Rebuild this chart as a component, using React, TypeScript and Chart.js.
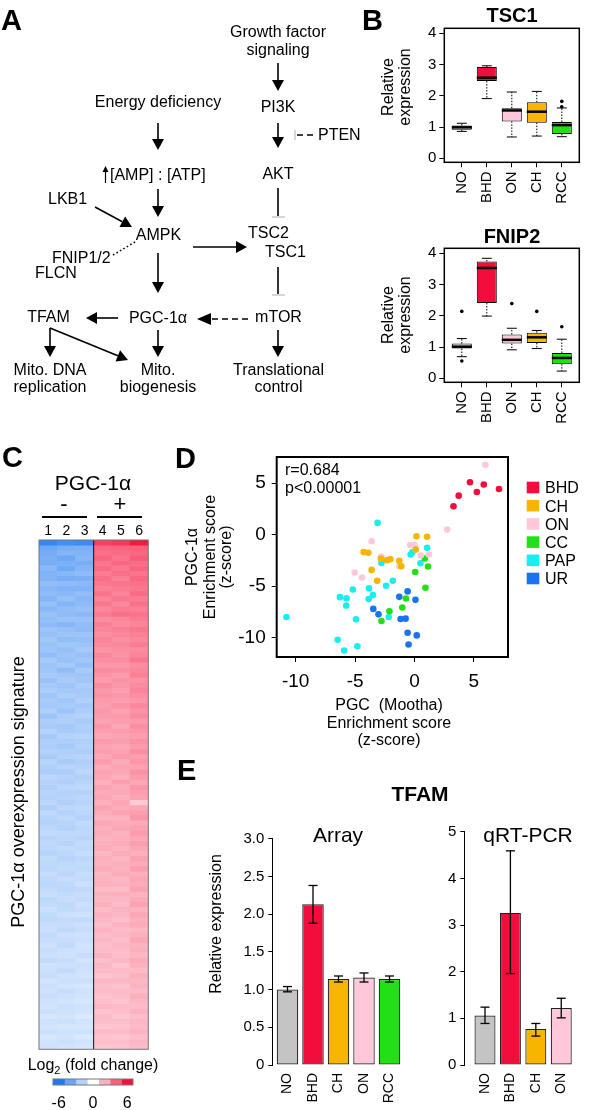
import React, { useEffect, useRef } from "react";
import { Chart, registerables } from "chart.js";
Chart.register(...registerables);

const FONT = "'Liberation Sans', Arial, Helvetica, sans-serif";
Chart.defaults.font.family = FONT;
Chart.defaults.color = "#000";

// ---------- Panel B: box plots ----------
const boxGroups = ["NO", "BHD", "ON", "CH", "RCC"];
const boxColors = ["#C4C4C4", "#F20D3C", "#FFC8DA", "#F7B500", "#22E016"];
const tsc1Min = [0.86, 1.91, 0.68, 0.71, 0.69];
const tsc1Q1 = [0.91, 2.47, 1.18, 1.14, 0.78];
const tsc1Med = [0.99, 2.58, 1.53, 1.49, 1.06];
const tsc1Q3 = [1.05, 2.92, 1.6, 1.79, 1.16];
const tsc1Max = [1.12, 2.96, 2.12, 2.14, 1.61];
const tsc1Out = [[], [], [], [], [1.65, 1.82]];
const fnip2Min = [0.69, 1.99, 0.91, 0.95, 0.23];
const fnip2Q1 = [0.95, 2.41, 1.11, 1.13, 0.45];
const fnip2Med = [1.01, 3.53, 1.23, 1.31, 0.65];
const fnip2Q3 = [1.11, 3.74, 1.4, 1.46, 0.81];
const fnip2Max = [1.27, 3.84, 1.6, 1.53, 1.25];
const fnip2Out = [[2.14, 0.55], [], [2.39], [2.14], [1.65]];
const boxYTicks = [0, 1, 2, 3, 4];

// ---------- Panel C: heat map (log2 fold change) ----------
const heat1 = [
  -5.4, -3.9, -3.7, -3.5, -3.6, -3.1, -3.4, -3.3, -2.9, -3.2,
  -3.0, -3.3, -2.8, -3.1, -2.7, -2.9, -3.0, -2.6, -2.8, -2.5,
  -2.7, -2.6, -2.9, -2.4, -2.6, -2.5, -2.3, -2.7, -2.4, -2.2,
  -2.5, -2.3, -2.4, -2.1, -2.6, -2.2, -2.3, -2.0, -2.4, -2.1,
  -2.2, -2.0, -2.3, -1.9, -2.1, -2.2, -1.8, -2.0, -2.1, -1.9,
  -2.0, -1.8, -2.1, -1.7, -1.9, -2.0, -1.8, -1.6, -1.9, -1.7,
  -1.8, -1.9, -1.6, -1.7, -1.8, -1.5, -1.7, -1.8, -1.6, -1.5,
  -1.7, -1.6, -1.4, -1.6, -1.7, -1.5, -1.4, -1.6, -1.5, -1.3,
  -1.5, -1.4, -1.6, -1.3, -1.4, -1.5, -1.2, -1.4, -1.3, -1.5,
  -1.3, -1.2, -1.4, -1.1, -1.3, -1.2, -1.4, -1.1, -1.2, -1.3,
];
const heat2 = [
  -5.0, -3.6, -3.3, -3.9, -3.5, -3.8, -3.2, -3.6, -3.0, -3.4,
  -3.1, -2.8, -3.3, -2.9, -3.0, -2.7, -3.2, -2.8, -2.6, -2.9,
  -2.5, -2.8, -2.6, -2.7, -2.4, -2.9, -2.5, -2.3, -2.6, -2.4,
  -2.2, -2.5, -2.3, -2.6, -2.2, -2.1, -2.4, -2.3, -2.0, -2.2,
  -2.4, -2.1, -2.0, -2.3, -1.9, -2.2, -2.0, -2.1, -1.8, -2.0,
  -1.9, -2.1, -1.8, -2.0, -1.7, -1.9, -2.0, -1.7, -1.8, -1.9,
  -1.6, -1.8, -1.9, -1.7, -1.6, -1.8, -1.5, -1.7, -1.8, -1.6,
  -1.5, -1.7, -1.6, -1.4, -1.6, -1.5, -1.7, -1.4, -1.5, -1.6,
  -1.4, -1.3, -1.5, -1.4, -1.6, -1.3, -1.4, -1.2, -1.5, -1.3,
  -1.2, -1.4, -1.3, -1.2, -1.4, -1.1, -1.3, -1.2, -1.4, -1.2,
];
const heat3 = [
  -5.2, -3.5, -3.4, -3.2, -3.6, -3.3, -3.0, -3.5, -3.1, -3.4,
  -2.9, -3.2, -3.0, -2.8, -3.1, -2.7, -2.9, -3.0, -2.6, -2.8,
  -2.6, -2.4, -2.7, -2.5, -2.8, -2.3, -2.6, -2.5, -2.2, -2.4,
  -2.3, -2.1, -2.4, -2.2, -2.0, -2.3, -2.1, -2.2, -1.9, -2.1,
  -2.0, -2.2, -1.9, -2.1, -2.0, -1.8, -2.1, -1.9, -1.7, -2.0,
  -1.8, -1.9, -1.7, -1.8, -2.0, -1.6, -1.8, -1.7, -1.9, -1.6,
  -1.7, -1.5, -1.8, -1.6, -1.7, -1.5, -1.6, -1.4, -1.7, -1.5,
  -1.6, -1.4, -1.5, -1.3, -1.6, -1.4, -1.5, -1.3, -1.4, -1.2,
  -1.3, -1.5, -1.2, -1.4, -1.3, -1.2, -1.4, -1.1, -1.3, -1.2,
  -1.1, -1.3, -1.2, -1.0, -1.2, -1.1, -1.3, -1.0, -1.2, -1.1,
];
const heat4 = [
  4.8, 3.8, 3.6, 3.9, 3.5, 3.7, 3.3, 3.6, 3.4, 3.2,
  3.5, 3.1, 3.4, 3.0, 3.3, 2.9, 3.2, 3.0, 2.8, 3.1,
  2.9, 2.7, 3.0, 2.8, 2.6, 2.9, 2.7, 2.5, 2.8, 2.6,
  2.7, 2.5, 2.4, 2.6, 2.5, 2.3, 2.6, 2.4, 2.2, 2.5,
  2.3, 2.4, 2.2, 2.5, 2.1, 2.3, 2.2, 2.0, 2.3, 2.1,
  2.2, 2.0, 2.3, 2.1, 1.9, 2.2, 2.0, 2.1, 1.9, 2.0,
  2.1, 1.8, 2.0, 1.9, 2.1, 1.8, 1.9, 2.0, 1.7, 1.9,
  1.8, 2.0, 1.7, 1.9, 1.8, 1.6, 1.9, 1.7, 1.8, 1.6,
  1.7, 1.9, 1.6, 1.8, 1.7, 1.5, 1.8, 1.6, 1.7, 1.5,
  1.6, 1.8, 1.5, 1.7, 1.6, 1.4, 1.7, 1.5, 1.6, 1.4,
];
const heat5 = [
  5.0, 3.9, 3.7, 3.5, 3.8, 3.4, 3.6, 3.2, 3.5, 3.3,
  3.1, 3.4, 3.0, 3.3, 3.6, 3.1, 2.9, 3.2, 3.0, 2.8,
  3.0, 2.8, 2.7, 2.9, 2.6, 2.8, 2.5, 2.7, 2.6, 2.4,
  2.6, 2.4, 2.7, 2.3, 2.5, 2.4, 2.2, 2.5, 2.3, 2.4,
  2.2, 2.3, 2.5, 2.1, 2.3, 2.2, 2.0, 2.4, 2.1, 2.2,
  2.0, 2.2, 2.1, 2.3, 1.9, 2.1, 2.2, 1.9, 2.0, 2.1,
  1.9, 2.1, 1.8, 2.0, 1.9, 2.1, 1.8, 1.9, 1.7, 2.0,
  1.8, 1.7, 1.9, 1.8, 1.6, 1.9, 1.7, 1.8, 1.6, 1.8,
  1.7, 1.6, 1.8, 1.5, 1.7, 1.6, 1.8, 1.5, 1.7, 1.6,
  1.5, 1.7, 1.6, 1.4, 1.6, 1.5, 1.7, 1.4, 1.6, 1.5,
];
const heat6 = [
  5.8, 4.0, 3.8, 4.1, 3.7, 3.9, 3.5, 3.8, 3.6, 3.4,
  3.7, 3.3, 3.6, 3.2, 3.5, 3.3, 3.1, 3.4, 3.2, 3.0,
  3.3, 2.9, 3.1, 3.4, 2.8, 3.0, 3.2, 2.7, 2.9, 3.1,
  2.8, 2.6, 3.0, 2.7, 2.9, 2.5, 2.8, 2.6, 2.4, 2.7,
  2.5, 2.8, 2.4, 2.6, 2.3, 2.7, 2.5, 2.2, 2.6, 2.4,
  2.3, 1.3, 2.2, 2.4, 2.6, 2.1, 2.3, 2.5, 2.2, 2.4,
  2.2, 2.0, 2.3, 2.1, 2.4, 2.0, 2.2, 2.1, 2.3, 1.9,
  2.1, 2.3, 1.9, 2.2, 2.0, 2.1, 1.8, 2.0, 2.2, 1.9,
  2.0, 1.8, 2.1, 1.9, 1.7, 2.0, 1.8, 1.9, 1.7, 2.0,
  1.8, 1.7, 1.9, 1.6, 1.8, 1.7, 1.9, 1.6, 1.8, 1.7,
];
const heatColumns = ["1", "2", "3", "4", "5", "6"];
const legendEdges = [-7, -5, -3, -1, 1, 3, 5, 7];
const legendTicks = [-6, 0, 6];

// ---------- Panel D: scatter ----------
const bhdX = [3.28, 3.72, 4.67, 5.83, 5.25, 7.11];
const bhdY = [2.75, 3.79, 5.1, 4.87, 4.15, 4.44];
const chX = [0.17, 1.06, 0.11, -4.28, -3.89, -2.83, -2.31, -2.03, -1.28, -1.11, -3.61, -3.14];
const chY = [-0.16, -0.2, -1.44, -1.7, -1.76, -2.32, -2.48, -2.39, -2.55, -3.07, -3.43, -4.48];
const onX = [5.97, 2.75, -3.61, -0.36, 0.0, 0.53, 1.22, -2.78, -1.28, -5.03, -4.42];
const onY = [6.8, 0.49, -0.65, -1.01, -1.01, -2.03, -1.93, -2.12, -3.07, -3.69, -4.18];
const ccX = [0.86, 1.14, 0.06, 0.92, -0.72, -1.03, -2.11, -2.78];
const ccY = [-2.32, -3.1, -3.63, -5.16, -6.21, -7.09, -7.45, -8.4];
const papX = [-3.11, 1.06, -0.33, -0.19, 0.5, -2.78, -1.83, -2.39, -3.83, -5.19, -3.5, -3.86, -6.28, -5.72, -5.75, -4.92, -2.17, -10.78, -6.47, -5.92, -4.81];
const papY = [1.14, -1.27, -1.93, -1.73, -2.78, -2.75, -4.48, -4.97, -5.23, -5.33, -5.88, -6.27, -6.08, -6.18, -6.9, -8.24, -8.01, -8.01, -10.23, -11.27, -10.85];
const urX = [-1.28, -0.58, 0.08, -3.47, -3.03, -1.17, -0.75, -0.58, 0.19, -0.5];
const urY = [-6.05, -5.52, -6.34, -7.22, -7.75, -8.2, -8.17, -9.54, -9.8, -10.69];
const scatterTicksX = [-10, -5, 0, 5];
const scatterTicksY = [-10, -5, 0, 5];

// ---------- Panel E: bars ----------
const arrayGroups = ["NO", "BHD", "CH", "ON", "RCC"];
const arrayVals = [1.0, 2.13, 1.14, 1.16, 1.14];
const arrayLo = [0.97, 1.88, 1.1, 1.1, 1.1];
const arrayHi = [1.04, 2.38, 1.18, 1.22, 1.18];
const qpcrGroups = ["NO", "BHD", "CH", "ON"];
const qpcrVals = [1.06, 3.26, 0.77, 1.22];
const qpcrLo = [0.89, 1.96, 0.62, 1.01];
const qpcrHi = [1.24, 4.59, 0.89, 1.43];

// ---------- colours ----------
const GROUP_COLOR: Record<string, string> = {
  NO: "#C4C4C4",
  BHD: "#F20D3C",
  CH: "#F7B500",
  ON: "#FFC8DA",
  RCC: "#22E016",
  CC: "#22E016",
  PAP: "#18EEF0",
  UR: "#1874F0",
};
const BLUE = [30, 120, 240];
const RED = [245, 16, 58];
const heatColor = (v: number) => {
  const t = Math.min(Math.abs(v) / 6, 1);
  const c = v < 0 ? BLUE : RED;
  const ch = (k: number) => Math.round(255 + (c[k] - 255) * t);
  return `rgb(${ch(0)},${ch(1)},${ch(2)})`;
};

// ---------- plugins ----------
const framePlugin = (lw: number, color = "#000") => ({
  id: "frame",
  afterDraw(chart: any) {
    const { ctx, chartArea: a } = chart;
    ctx.save();
    ctx.strokeStyle = color;
    ctx.lineWidth = lw;
    ctx.strokeRect(a.left, a.top, a.right - a.left, a.bottom - a.top);
    ctx.restore();
  },
});

const seg = (ctx: any, x1: number, y1: number, x2: number, y2: number) => {
  ctx.beginPath();
  ctx.moveTo(x1, y1);
  ctx.lineTo(x2, y2);
  ctx.stroke();
};

const boxPlugin = (mins: number[], meds: number[], maxs: number[], q1s: number[], q3s: number[]) => ({
  id: "boxExtras",
  afterDatasetsDraw(chart: any) {
    const { ctx, scales } = chart;
    const x = scales.x;
    const y = scales.y;
    const half = x.getPixelForValue(1.4) - x.getPixelForValue(1);
    ctx.save();
    ctx.strokeStyle = "#000";
    mins.forEach((mn, i) => {
      const cx = x.getPixelForValue(i + 1);
      ctx.lineWidth = 1;
      ctx.setLineDash([1.5, 1.5]);
      seg(ctx, cx, y.getPixelForValue(q3s[i]), cx, y.getPixelForValue(maxs[i]));
      seg(ctx, cx, y.getPixelForValue(q1s[i]), cx, y.getPixelForValue(mn));
      ctx.setLineDash([]);
      seg(ctx, cx - half / 2, y.getPixelForValue(maxs[i]), cx + half / 2, y.getPixelForValue(maxs[i]));
      seg(ctx, cx - half / 2, y.getPixelForValue(mn), cx + half / 2, y.getPixelForValue(mn));
      ctx.lineWidth = 2.5;
      seg(ctx, cx - half, y.getPixelForValue(meds[i]), cx + half, y.getPixelForValue(meds[i]));
    });
    ctx.restore();
  },
});

const errPlugin = (lo: number[], hi: number[]) => ({
  id: "errbars",
  afterDatasetsDraw(chart: any) {
    const { ctx, scales } = chart;
    const x = scales.x;
    const y = scales.y;
    ctx.save();
    ctx.strokeStyle = "#000";
    ctx.lineWidth = 1.3;
    lo.forEach((l, i) => {
      const cx = x.getPixelForValue(i + 1);
      const yl = y.getPixelForValue(l);
      const yh = y.getPixelForValue(hi[i]);
      seg(ctx, cx, yl, cx, yh);
      seg(ctx, cx - 4.5, yl, cx + 4.5, yl);
      seg(ctx, cx - 4.5, yh, cx + 4.5, yh);
    });
    ctx.restore();
  },
});

const heatLinesPlugin = {
  id: "heatLines",
  afterDraw(chart: any) {
    const { ctx, chartArea: a, scales } = chart;
    const xd = scales.x.getPixelForValue(2.5);
    ctx.save();
    ctx.strokeStyle = "#111";
    ctx.lineWidth = 1;
    seg(ctx, xd, a.top, xd, a.bottom);
    ctx.strokeStyle = "#777";
    ctx.strokeRect(a.left, a.top, a.right - a.left, a.bottom - a.top);
    ctx.restore();
  },
};

const fixAxis = (size: number) => (s: any) => {
  if (s.isHorizontal()) s.height = size;
  else s.width = size;
  s.paddingTop = 0;
  s.paddingBottom = 0;
  s.paddingLeft = 0;
  s.paddingRight = 0;
};
const setTicks = (vals: number[]) => (s: any) => {
  s.ticks = vals.map((v) => ({ value: v }));
};

const base = {
  animation: false,
  responsive: false,
  maintainAspectRatio: false,
  devicePixelRatio: 1,
  events: [],
};
const noPlugins = { legend: { display: false }, tooltip: { enabled: false }, title: { display: false } };

// ---------- chart configs ----------
function makeBox(mins: number[], q1s: number[], meds: number[], q3s: number[], maxs: number[], outs: number[][]) {
  return {
    type: "bar",
    data: {
      datasets: [
        {
          type: "bar",
          data: boxGroups.map((g, i) => ({ x: i + 1, y: [q1s[i], q3s[i]] })),
          backgroundColor: boxColors,
          borderColor: "#000",
          borderWidth: 1,
          borderSkipped: false,
          barPercentage: 0.8,
          categoryPercentage: 1,
        },
        {
          type: "scatter",
          data: outs.flatMap((arr, i) => arr.map((v) => ({ x: i + 1, y: v }))),
          pointRadius: 1.8,
          backgroundColor: "#000",
          borderWidth: 0,
        },
      ],
    },
    options: {
      ...base,
      layout: { padding: { top: 28.3, right: 10.7, left: 0, bottom: 0 } },
      plugins: noPlugins,
      scales: {
        x: {
          type: "linear",
          min: 0.3,
          max: 5.7,
          offset: false,
          afterBuildTicks: setTicks([1, 2, 3, 4, 5]),
          afterFit: fixAxis(52.7),
          ticks: {
            callback: (v: number) => boxGroups[v - 1],
            minRotation: 90,
            maxRotation: 90,
            autoSkip: false,
            padding: 4,
            font: { size: 15, family: FONT },
            color: "#000",
          },
          grid: { display: true, drawOnChartArea: false, drawTicks: true, tickLength: 5, color: "#000", offset: false },
          border: { display: false },
        },
        y: {
          min: -0.13,
          max: 4.16,
          afterBuildTicks: setTicks(boxYTicks),
          afterFit: fixAxis(44.3),
          ticks: { padding: 3, font: { size: 15, family: FONT }, color: "#000" },
          grid: { display: true, drawOnChartArea: false, drawTicks: true, tickLength: 5, color: "#000" },
          border: { display: false },
        },
      },
    },
    plugins: [boxPlugin(mins, meds, maxs, q1s, q3s), framePlugin(1.5)],
  };
}

function makeHeat() {
  const cols = [heat1, heat2, heat3, heat4, heat5, heat6];
  const n = heat1.length;
  return {
    type: "bar",
    data: {
      labels: heatColumns,
      datasets: heat1.map((_, r) => ({
        data: cols.map(() => [r, r + 1]),
        backgroundColor: cols.map((c) => heatColor(c[r])),
        borderWidth: 0,
        grouped: false,
        barPercentage: 1,
        categoryPercentage: 1,
      })),
    },
    options: {
      ...base,
      layout: { padding: { left: 9, top: 10, right: 11.7, bottom: 10.7 } },
      plugins: noPlugins,
      scales: {
        x: { display: false, offset: true },
        y: { display: false, min: 0, max: n, reverse: true },
      },
    },
    plugins: [heatLinesPlugin],
  };
}

function makeHeatLegend() {
  return {
    type: "bar",
    data: {
      labels: [""],
      datasets: legendEdges.slice(0, -1).map((lo, i) => ({
        data: [[lo, legendEdges[i + 1]]],
        backgroundColor: heatColor((lo + legendEdges[i + 1]) / 2),
        borderWidth: 0,
        grouped: false,
        barPercentage: 1,
        categoryPercentage: 1,
      })),
    },
    options: {
      ...base,
      indexAxis: "y",
      layout: { padding: { left: 13, right: 17, top: 9, bottom: 0 } },
      plugins: noPlugins,
      scales: {
        x: {
          type: "linear",
          min: -7,
          max: 7,
          afterBuildTicks: setTicks(legendTicks),
          afterFit: fixAxis(25),
          ticks: { padding: 9, font: { size: 16, family: FONT }, color: "#000" },
          grid: { display: false, drawTicks: false },
          border: { display: false },
        },
        y: { display: false },
      },
    },
    plugins: [framePlugin(1, "#777")],
  };
}

function makeScatter() {
  const groups = [
    { label: "BHD", xs: bhdX, ys: bhdY },
    { label: "CH", xs: chX, ys: chY },
    { label: "ON", xs: onX, ys: onY },
    { label: "CC", xs: ccX, ys: ccY },
    { label: "PAP", xs: papX, ys: papY },
    { label: "UR", xs: urX, ys: urY },
  ];
  return {
    type: "scatter",
    data: {
      datasets: groups.map((g) => ({
        label: g.label,
        data: g.xs.map((x, i) => ({ x, y: g.ys[i] })),
        backgroundColor: GROUP_COLOR[g.label],
        borderWidth: 0,
        pointRadius: 3.3,
      })),
    },
    options: {
      ...base,
      layout: { padding: { top: 17, right: 12, left: 0, bottom: 0 } },
      plugins: noPlugins,
      scales: {
        x: {
          type: "linear",
          min: -11.6,
          max: 7.87,
          afterBuildTicks: setTicks(scatterTicksX),
          afterFit: fixAxis(40),
          ticks: { padding: 8, font: { size: 19, family: FONT }, color: "#000" },
          grid: { display: true, drawOnChartArea: false, drawTicks: true, tickLength: 5, color: "#000" },
          border: { display: false },
        },
        y: {
          type: "linear",
          min: -11.9,
          max: 7.55,
          afterBuildTicks: setTicks(scatterTicksY),
          afterFit: fixAxis(76.7),
          ticks: { padding: 6, font: { size: 19, family: FONT }, color: "#000" },
          grid: { display: true, drawOnChartArea: false, drawTicks: true, tickLength: 5, color: "#000" },
          border: { display: false },
        },
      },
    },
    plugins: [framePlugin(2)],
  };
}

function makeBars(
  groups: string[],
  vals: number[],
  lo: number[],
  hi: number[],
  opts: { xmin: number; xmax: number; ymax: number; step: number; yw: number; top: number; right: number; barPct: number; fmt: (v: number) => string }
) {
  return {
    type: "bar",
    data: {
      datasets: [
        {
          data: vals.map((v, i) => ({ x: i + 1, y: v })),
          backgroundColor: groups.map((g) => GROUP_COLOR[g]),
          borderColor: "#222",
          borderWidth: 1.2,
          borderSkipped: false,
          barPercentage: opts.barPct,
          categoryPercentage: 1,
        },
      ],
    },
    options: {
      ...base,
      layout: { padding: { top: opts.top, right: opts.right, left: 0, bottom: 0 } },
      plugins: noPlugins,
      scales: {
        x: {
          type: "linear",
          min: opts.xmin,
          max: opts.xmax,
          offset: false,
          afterBuildTicks: setTicks(groups.map((_, i) => i + 1)),
          afterFit: fixAxis(45),
          ticks: {
            callback: (v: number) => groups[v - 1],
            minRotation: 90,
            maxRotation: 90,
            autoSkip: false,
            padding: 8,
            font: { size: 14, family: FONT },
            color: "#000",
          },
          grid: { display: false, drawTicks: false, offset: false },
          border: { display: false },
        },
        y: {
          min: 0,
          max: opts.ymax,
          ticks: { stepSize: opts.step, callback: opts.fmt, padding: 4, font: { size: 15, family: FONT }, color: "#000" },
          afterFit: fixAxis(opts.yw),
          grid: { display: true, drawOnChartArea: false, drawTicks: true, tickLength: 4, color: "#000" },
          border: { display: true, color: "#000", width: 1 },
        },
      },
    },
    plugins: [errPlugin(lo, hi)],
  };
}

// ---------- components ----------
function ChartCanvas({ left, top, width, height, make }: any) {
  const ref = useRef<HTMLCanvasElement>(null);
  useEffect(() => {
    const chart = new Chart(ref.current as HTMLCanvasElement, make() as any);
    return () => chart.destroy();
  }, []);
  return (
    <canvas
      ref={ref}
      width={width}
      height={height}
      style={{ position: "absolute", left, top, width, height }}
    />
  );
}

const T = ({ x, y, children, a = "middle", s = 16, w = "normal", rot = false }: any) => (
  <text
    x={x}
    y={y}
    textAnchor={a}
    fontSize={s}
    fontWeight={w}
    transform={rot ? `rotate(-90 ${x} ${y})` : undefined}
    style={{ whiteSpace: "pre" }}
  >
    {children}
  </text>
);

function Arrow({ x1, y1, x2, y2, dash, head = 11, hw = 6, w = 1.6 }: any) {
  const dx = x2 - x1;
  const dy = y2 - y1;
  const len = Math.hypot(dx, dy);
  const ux = dx / len;
  const uy = dy / len;
  const bx = x2 - ux * head;
  const by = y2 - uy * head;
  const px = -uy;
  const py = ux;
  return (
    <g>
      <line x1={x1} y1={y1} x2={bx} y2={by} stroke="#000" strokeWidth={w} strokeDasharray={dash} />
      <polygon points={`${x2},${y2} ${bx + px * hw},${by + py * hw} ${bx - px * hw},${by - py * hw}`} fill="#000" />
    </g>
  );
}

const legendD = ["BHD", "CH", "ON", "CC", "PAP", "UR"];

function Overlay() {
  return (
    <svg
      width={600}
      height={1110}
      style={{ position: "absolute", left: 0, top: 0, pointerEvents: "none" }}
      fontFamily={FONT}
      fill="#000"
    >
      {/* panel letters */}
      <T x={1} y={30} a="start" s={29} w="bold">A</T>
      <T x={362} y={30} a="start" s={29} w="bold">B</T>
      <T x={2} y={467} a="start" s={29} w="bold">C</T>
      <T x={175} y={468} a="start" s={29} w="bold">D</T>
      <T x={177} y={780} a="start" s={29} w="bold">E</T>

      {/* Panel A diagram */}
      <T x={278} y={37}>Growth factor</T>
      <T x={278} y={54.5}>signaling</T>
      <T x={278} y={112}>PI3K</T>
      <T x={318} y={140} a="start">PTEN</T>
      <T x={278} y={179}>AKT</T>
      <T x={248} y={238} a="start">TSC2</T>
      <T x={265} y={257} a="start">TSC1</T>
      <T x={278.5} y={322}>mTOR</T>
      <T x={278.5} y={375}>Translational</T>
      <T x={278.5} y={392}>control</T>
      <T x={158} y={106.5}>Energy deficiency</T>
      <T x={110} y={180} a="start">[AMP] : [ATP]</T>
      <T x={48} y={204} a="start">LKB1</T>
      <T x={158.5} y={240}>AMPK</T>
      <T x={52} y={263} a="start">FNIP1/2</T>
      <T x={35} y={278} a="start">FLCN</T>
      <T x={158} y={323}>PGC-1α</T>
      <T x={48.5} y={322}>TFAM</T>
      <T x={50} y={375}>Mito. DNA</T>
      <T x={50} y={392}>replication</T>
      <T x={158} y={375}>Mito.</T>
      <T x={158} y={392}>biogenesis</T>

      <Arrow x1={278} y1={63} x2={278} y2={91} />
      <Arrow x1={278} y1={123} x2={278} y2={148} />
      <Arrow x1={158} y1={123} x2={158} y2={150} />
      <Arrow x1={158} y1={189} x2={158} y2={217} />
      <Arrow x1={105.5} y1={183} x2={105.5} y2={166} head={6} hw={3} w={1.2} />
      <Arrow x1={95} y1={207} x2={132} y2={227} />
      <Arrow x1={193} y1={247} x2={247} y2={247} />
      <Arrow x1={158} y1={253} x2={158} y2={293} />
      <Arrow x1={118} y1={318} x2={86} y2={318} />
      <Arrow x1={50} y1={328} x2={50} y2={357} />
      <Arrow x1={50} y1={328} x2={128} y2={360} />
      <Arrow x1={158} y1={330} x2={158} y2={357} />
      <Arrow x1={278} y1={330} x2={278} y2={357} />
      <Arrow x1={248} y1={319} x2={197} y2={319} dash="6,4" head={14} hw={6} />
      <line x1={278} y1={188} x2={278} y2={216} stroke="#000" strokeWidth={1.6} />
      <line x1={272} y1={217} x2={285} y2={217} stroke="#bbb" strokeWidth={1.2} />
      <line x1={278} y1={267} x2={278} y2={294} stroke="#000" strokeWidth={1.6} />
      <line x1={272} y1={295} x2={285} y2={295} stroke="#bbb" strokeWidth={1.2} />
      <line x1={295} y1={130} x2={295} y2={140} stroke="#bbb" strokeWidth={1.2} />
      <line x1={297} y1={135} x2={314} y2={135} stroke="#000" strokeWidth={1.6} strokeDasharray="6,4" />
      <line x1={135} y1={242} x2={113} y2={255} stroke="#000" strokeWidth={1.6} strokeDasharray="1.5,2.5" />

      {/* Panel B texts */}
      <T x={512} y={22} s={20} w="bold">TSC1</T>
      <T x={512} y={243} s={20} w="bold">FNIP2</T>
      <T x={393} y={87} s={16} rot>Relative</T>
      <T x={409.5} y={87} s={16} rot>expression</T>
      <T x={393} y={315} s={16} rot>Relative</T>
      <T x={409.5} y={315} s={16} rot>expression</T>

      {/* Panel C texts */}
      <T x={93} y={490} s={21}>PGC-1α</T>
      <T x={64} y={511} s={22}>-</T>
      <T x={120} y={511} s={22}>+</T>
      <line x1={42} y1={517} x2={87} y2={517} stroke="#000" strokeWidth={1.8} />
      <line x1={97} y1={517} x2={142} y2={517} stroke="#000" strokeWidth={1.8} />
      {heatColumns.map((c, i) => (
        <T key={c} x={48.1 + i * 18.22} y={535} s={14}>{c}</T>
      ))}
      <T x={24} y={792} s={18} rot>PGC-1α overexpression signature</T>
      <text x={93} y={1070} textAnchor="middle" fontSize={16}>
        Log<tspan fontSize={11} dy={4}>2</tspan>
        <tspan dy={-4}> (fold change)</tspan>
      </text>

      {/* Panel D texts */}
      <T x={285} y={475} a="start" s={16}>r=0.684</T>
      <T x={285} y={493} a="start" s={16}>p{"<"}0.00001</T>
      <T x={197} y={557} s={16} rot>PGC-1α</T>
      <T x={215} y={557} s={16} rot>Enrichment score</T>
      <T x={231} y={557} s={16} rot>(z-score)</T>
      <T x={389} y={710} s={16}>PGC  (Mootha)</T>
      <T x={389} y={728} s={16}>Enrichment score</T>
      <T x={389} y={745} s={16}>(z-score)</T>
      {legendD.map((g, i) => (
        <g key={g}>
          <rect x={526.7} y={481.7 + i * 18.2} width={12.6} height={11.6} fill={GROUP_COLOR[g]} />
          <T x={545} y={493.3 + i * 18.2} a="start" s={16}>{g}</T>
        </g>
      ))}

      {/* Panel E texts */}
      <T x={420} y={801} s={21} w="bold">TFAM</T>
      <T x={338} y={842} s={21}>Array</T>
      <T x={528} y={842} s={21}>qRT-PCR</T>
      <T x={221} y={924} s={16} rot>Relative expression</T>
    </svg>
  );
}

export default function App() {
  return (
    <div style={{ position: "absolute", left: 0, top: 0, width: 600, height: 1110, background: "#fff", overflow: "hidden", fontFamily: FONT }}>
      <ChartCanvas left={400} top={0} width={190} height={215} make={() => makeBox(tsc1Min, tsc1Q1, tsc1Med, tsc1Q3, tsc1Max, tsc1Out)} />
      <ChartCanvas left={400} top={220} width={190} height={215} make={() => makeBox(fnip2Min, fnip2Q1, fnip2Med, fnip2Q3, fnip2Max, fnip2Out)} />
      <ChartCanvas left={30} top={530} width={130} height={530} make={makeHeat} />
      <ChartCanvas left={40} top={1070} width={110} height={40} make={makeHeatLegend} />
      <ChartCanvas left={200} top={440} width={320} height={257} make={makeScatter} />
      <ChartCanvas
        left={200}
        top={820}
        width={210}
        height={290}
        make={() =>
          makeBars(arrayGroups, arrayVals, arrayLo, arrayHi, {
            xmin: 0.404,
            xmax: 5.6,
            ymax: 3,
            step: 0.5,
            yw: 72.3,
            top: 18.7,
            right: 5.2,
            barPct: 0.843,
            fmt: (v: number) => (v === 0 ? "0" : v.toFixed(1)),
          })
        }
      />
      <ChartCanvas
        left={400}
        top={820}
        width={180}
        height={290}
        make={() =>
          makeBars(qpcrGroups, qpcrVals, qpcrLo, qpcrHi, {
            xmin: 0.186,
            xmax: 4.6,
            ymax: 5,
            step: 1,
            yw: 64.3,
            top: 11.7,
            right: 3.5,
            barPct: 0.826,
            fmt: (v: number) => String(v),
          })
        }
      />
      <Overlay />
    </div>
  );
}
